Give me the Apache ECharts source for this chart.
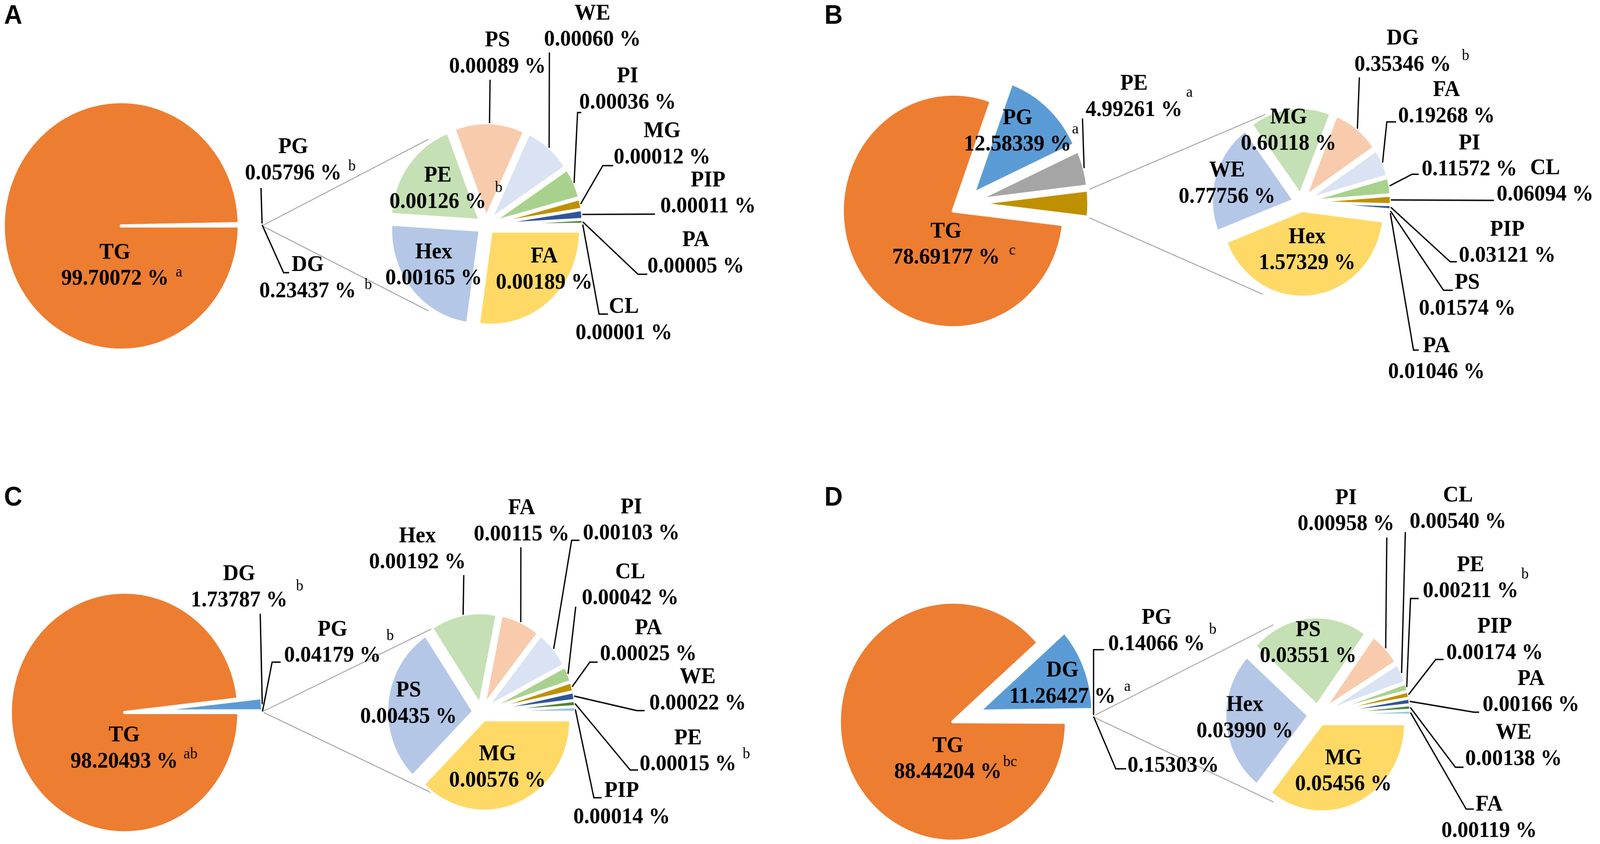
<!DOCTYPE html>
<html><head><meta charset="utf-8">
<script src="https://cdn.jsdelivr.net/npm/echarts@6/dist/echarts.min.js"></script>
<style>html,body{margin:0;padding:0;background:#fff;overflow:hidden}#c{width:4317px;height:2161px;transform-origin:0 0}</style>
</head><body><div id="c"></div>
<script>
// ---------------- DATA ----------------
const panelLetters = ['A', 'B', 'C', 'D'];

const A_mainNames = ['TG', 'PG', 'DG'];
const A_mainValues = [99.70072, 0.05796, 0.23437];
const A_mainSup = ['a', 'b', 'b'];
const A_subNames = ['FA', 'Hex', 'PE', 'PS', 'WE', 'PI', 'MG', 'PIP', 'PA', 'CL'];
const A_subValues = [0.00189, 0.00165, 0.00126, 0.00089, 0.00060, 0.00036, 0.00012, 0.00011, 0.00005, 0.00001];
const A_subSup = ['', '', 'b', '', '', '', '', '', '', ''];

const B_mainNames = ['TG', 'PG', 'PE'];
const B_mainValues = [78.69177, 12.58339, 4.99261];
const B_mainSup = ['c', 'a', 'a'];
const B_subNames = ['Hex', 'WE', 'MG', 'DG', 'FA', 'PI', 'CL', 'PIP', 'PS', 'PA'];
const B_subValues = [1.57329, 0.77756, 0.60118, 0.35346, 0.19268, 0.11572, 0.06094, 0.03121, 0.01574, 0.01046];
const B_subSup = ['', '', '', 'b', '', '', '', '', '', ''];

const C_mainNames = ['TG', 'DG', 'PG'];
const C_mainValues = [98.20493, 1.73787, 0.04179];
const C_mainSup = ['ab', 'b', 'b'];
const C_subNames = ['MG', 'PS', 'Hex', 'FA', 'PI', 'CL', 'PA', 'WE', 'PE', 'PIP'];
const C_subValues = [0.00576, 0.00435, 0.00192, 0.00115, 0.00103, 0.00042, 0.00025, 0.00022, 0.00015, 0.00014];
const C_subSup = ['', '', '', '', '', '', '', '', 'b', ''];

const D_mainNames = ['TG', 'DG', 'PG'];
const D_mainValues = [88.44204, 11.26427, 0.14066];
const D_mainSup = ['bc', 'a', 'b'];
const D_subNames = ['MG', 'Hex', 'PS', 'PI', 'CL', 'PE', 'PIP', 'PA', 'WE', 'FA'];
const D_subValues = [0.05456, 0.03990, 0.03551, 0.00958, 0.00540, 0.00211, 0.00174, 0.00166, 0.00138, 0.00119];
const D_subSup = ['', '', '', '', '', 'b', '', '', '', ''];

// ---------------- STYLE ----------------
const MAIN_COLORS = ['#ED7D31', '#5B9BD5', '#A5A5A5'];
const OTHER_COLOR = '#BF9000';
const SUB_COLORS = ['#FFD966', '#B4C7E7', '#C5E0B4', '#F8CBAD', '#DAE3F3', '#A9D18E', '#BF9000', '#2F5597', '#548235', '#9DC3E6'];
const SERIF = '"Liberation Serif", "Times New Roman", serif';
const SANS = '"Liberation Sans", Arial, sans-serif';
const LBL_SIZE = 58, LBL_LH = 67, SUP_SIZE = 40;
const LBL_FONT = 'bold ' + LBL_SIZE + 'px ' + SERIF;
const SUP_FONT = SUP_SIZE + 'px ' + SERIF;

// ---------------- LAYOUT (pixel positions on a 4317 x 2161 design) ----------------
const LAYOUT = {
  A: {
    letter: [11, 42],
    main: { c: [358, 578], r: 318, d: 31, bw: 8 },
    sub: { c: [1311, 576], r: 239, d: 22, bw: 6, beta: 0 },
    links: { up: [234.5, 269], lo: [125.2, 269] },
    labels: {
      TG: { at: [310, 714], sup: [19, 23] },
      PG: { at: [791, 444], line: [[704, 481]], sup: [18, 24] },
      DG: { at: [830, 746], line: [[765, 698], [780, 698]], sup: [23, 22] },
      PE: { at: [1181, 517], sup: [24, 42] },
      Hex: { at: [1170, 713] },
      FA: { at: [1468, 724] },
      PS: { at: [1342, 171], line: [[1322, 204]] },
      WE: { at: [1598, 102], line: [[1482, 134]] },
      PI: { at: [1693, 263], line: [[1558, 288], [1568, 288]] },
      MG: { at: [1786, 403], line: [[1626, 424], [1654, 424]] },
      PIP: { at: [1910, 529], line: [[1767, 548]] },
      PA: { at: [1877, 682], line: [[1721, 702], [1746, 702]] },
      CL: { at: [1683, 853], line: [[1616, 804], [1640, 804]] }
    }
  },
  B: {
    letter: [2224, 42],
    main: { c: [2602, 521], r: 299, d: 36, bw: 8 },
    sub: { c: [3510, 518], r: 220, d: 22, bw: 6, beta: 7 },
    links: { up: [246.9, 245], lo: [113.7, 257] },
    labels: {
      TG: { at: [2552, 660], sup: [25, 25] },
      PG: { at: [2745, 370], sup: [2, 45] },
      PE: { at: [3059, 282], line: [[2920, 303]], sup: [10, 51] },
      MG: { at: [3476, 368] },
      WE: { at: [3310, 504] },
      Hex: { at: [3526, 674] },
      DG: { at: [3784, 166], line: [[3667, 198]], sup: [29, 29] },
      FA: { at: [3902, 298], line: [[3741, 312], [3766, 312]] },
      PI: { at: [3964, 434], line: [[3809, 446], [3827, 446]] },
      CL: { at: [4168, 498], line: [[4030, 513]] },
      PIP: { at: [4066, 655], line: [[3912, 670], [3930, 670]] },
      PS: { at: [3958, 791], line: [[3894, 743], [3919, 743]] },
      PA: { at: [3875, 953], line: [[3813, 896], [3827, 896]] }
    }
  },
  C: {
    letter: [11, 1275],
    main: { c: [368, 1822], r: 308, d: 32, bw: 8 },
    sub: { c: [1298, 1823], r: 232, d: 22, bw: 6, beta: 0 },
    links: { up: [239.7, 251], lo: [121.3, 245] },
    labels: {
      TG: { at: [335, 1950], sup: [15, 25] },
      DG: { at: [645, 1537], line: [[702, 1571]], sup: [23, 42] },
      PG: { at: [897, 1679], line: [[734, 1695], [757, 1695]], sup: [15, 57] },
      PS: { at: [1102, 1835] },
      MG: { at: [1342, 1998] },
      Hex: { at: [1126, 1440], line: [[1251, 1472]] },
      FA: { at: [1407, 1368], line: [[1405, 1401]] },
      PI: { at: [1703, 1366], line: [[1542, 1383], [1563, 1383]] },
      CL: { at: [1700, 1532], line: [[1553, 1553]] },
      PA: { at: [1749, 1675], line: [[1591, 1695], [1612, 1695]] },
      WE: { at: [1882, 1801], line: [[1718, 1819], [1739, 1819]] },
      PE: { at: [1856, 1957], line: [[1700, 1971], [1721, 1971]], sup: [17, 32] },
      PIP: { at: [1677, 2092], line: [[1602, 2042], [1623, 2042]] }
    }
  },
  D: {
    letter: [2224, 1275],
    main: { c: [2606, 1834], r: 306, d: 38, bw: 8 },
    sub: { c: [3555, 1830], r: 224, d: 26, bw: 6, beta: 0 },
    links: { up: [242.5, 260], lo: [118.3, 253] },
    labels: {
      TG: { at: [2557, 1977], sup: [4, 32] },
      DG: { at: [2866, 1784], sup: [23, 32] },
      PG: { at: [3120, 1649], line: [[2950, 1663], [2978, 1663]], sup: [11, 43] },
      Other: { at: [3165, 1960], line: [[3010, 1968], [3038, 1968]] },
      PS: { at: [3529, 1680] },
      Hex: { at: [3358, 1872] },
      MG: { at: [3624, 2008] },
      PI: { at: [3631, 1342], line: [[3741, 1376]] },
      CL: { at: [3933, 1336], line: [[3791, 1362]] },
      PE: { at: [3967, 1514], line: [[3805, 1532], [3827, 1532]], sup: [8, 49] },
      PIP: { at: [4032, 1672], line: [[3873, 1688], [3894, 1688]] },
      PA: { at: [4130, 1805], line: [[3976, 1823], [3990, 1823]] },
      WE: { at: [4083, 1943], line: [[3926, 1964], [3948, 1964]] },
      FA: { at: [4017, 2127], line: [[3955, 2071], [3976, 2071]] }
    }
  }
};

const PANELS = [
  { key: 'A', mainNames: A_mainNames, mainValues: A_mainValues, mainSup: A_mainSup, subNames: A_subNames, subValues: A_subValues, subSup: A_subSup },
  { key: 'B', mainNames: B_mainNames, mainValues: B_mainValues, mainSup: B_mainSup, subNames: B_subNames, subValues: B_subValues, subSup: B_subSup },
  { key: 'C', mainNames: C_mainNames, mainValues: C_mainValues, mainSup: C_mainSup, subNames: C_subNames, subValues: C_subValues, subSup: C_subSup },
  { key: 'D', mainNames: D_mainNames, mainValues: D_mainValues, mainSup: D_mainSup, subNames: D_subNames, subValues: D_subValues, subSup: D_subSup }
];

// ---------------- FIT THE DESIGN TO THE VIEWPORT ----------------
const W0 = 4317, H0 = 2161;
const vw = document.documentElement.clientWidth || window.innerWidth || W0;
const vh = document.documentElement.clientHeight || window.innerHeight || H0;
const FX = Math.min(1, vw / W0), FY = Math.min(1, vh / H0);
const host = document.getElementById('c');
if (FX < 1 || FY < 1) host.style.transform = 'scale(' + FX + ',' + FY + ')';

// ---------------- BUILD ----------------
const rad = d => d * Math.PI / 180;
const dirS = d => [Math.cos(rad(d)), Math.sin(rad(d))]; // screen, clockwise from 3 o'clock
const mctx = document.createElement('canvas').getContext('2d');
function textWidth(t, font) { mctx.font = font; return mctx.measureText(t).width; }
const sum = arr => arr.reduce((a, b) => a + b, 0);

const series = [];
const graphics = [];

function addLabel(L, it, pieL) {
  const lab = L.labels[it.name];
  if (!lab) return;
  const isOther = it.name === 'Other';
  const valueText = it.value.toFixed(5) + (isOther ? '%' : ' %');
  const [cx, vy] = lab.at;
  const text = isOther ? valueText : it.name + '\n' + valueText;
  const y = isOther ? vy : vy - LBL_LH / 2;
  graphics.push({
    type: 'text', z: 100, silent: true,
    style: { text: text, x: cx, y: y, font: LBL_FONT, lineHeight: LBL_LH, fill: '#000',
      align: 'center', verticalAlign: 'middle', textAlign: 'center', textVerticalAlign: 'middle' }
  });
  if (it.sup) {
    const w = textWidth(valueText, LBL_FONT);
    const s = lab.sup || [14, 26];
    graphics.push({
      type: 'text', z: 100, silent: true,
      style: { text: it.sup, x: cx + w / 2 + s[0], y: vy + 6 - s[1], font: SUP_FONT, fill: '#000',
        align: 'left', verticalAlign: 'middle', textAlign: 'left', textVerticalAlign: 'middle' }
    });
  }
  if (lab.line) {
    const dv = dirS(it.midS);
    const R = pieL.r + pieL.d;
    const start = [pieL.c[0] + R * dv[0], pieL.c[1] + R * dv[1]];
    graphics.push({
      type: 'polyline', z: 99, silent: true,
      shape: { points: [start].concat(lab.line) },
      style: { stroke: '#000', lineWidth: 3.5, fill: null }
    });
  }
}

PANELS.forEach((p, pi) => {
  const L = LAYOUT[p.key];
  const otherVal = sum(p.subValues);
  const mainTotal = sum(p.mainValues) + otherVal;

  // primary pie: counter-clockwise from 3 o'clock: "other" (the secondary total), then the rest
  const mainItems = [{ name: 'Other', value: otherVal, color: OTHER_COLOR, sup: '' }];
  for (let i = p.mainNames.length - 1; i >= 0; i--) {
    mainItems.push({ name: p.mainNames[i], value: p.mainValues[i], color: MAIN_COLORS[i], sup: p.mainSup[i] });
  }
  const otherDeg = otherVal / mainTotal * 360;
  const startMath = -otherDeg / 2;
  let cum = 0;
  mainItems.forEach(it => {
    const a = it.value / mainTotal * 360;
    it.a0 = startMath + cum; it.a1 = it.a0 + a; it.midS = -(it.a0 + it.a1) / 2;
    cum += a;
  });
  series.push({
    type: 'pie', center: L.main.c, radius: L.main.r, startAngle: startMath, clockwise: false,
    selectedMode: 'multiple', selectedOffset: L.main.d, minAngle: 0, avoidLabelOverlap: false,
    label: { show: false }, labelLine: { show: false },
    emphasis: { disabled: true, scale: false },
    select: { itemStyle: { borderColor: '#fff', borderWidth: L.main.bw } },
    itemStyle: { borderColor: '#fff', borderWidth: L.main.bw },
    data: mainItems.map(it => ({ name: it.name, value: it.value, selected: true, itemStyle: { color: it.color } }))
  });

  // secondary pie: clockwise from 3 o'clock (+ beta)
  let cum2 = 0;
  const subItems = p.subNames.map((n, i) => {
    const a = p.subValues[i] / otherVal * 360;
    const it = { name: n, value: p.subValues[i], color: SUB_COLORS[i], sup: p.subSup[i], midS: L.sub.beta + cum2 + a / 2 };
    cum2 += a;
    return it;
  });
  series.push({
    type: 'pie', center: L.sub.c, radius: L.sub.r, startAngle: -L.sub.beta, clockwise: true,
    selectedMode: 'multiple', selectedOffset: L.sub.d, minAngle: 0, avoidLabelOverlap: false,
    label: { show: false }, labelLine: { show: false },
    emphasis: { disabled: true, scale: false },
    select: { itemStyle: { borderColor: '#fff', borderWidth: L.sub.bw } },
    itemStyle: { borderColor: '#fff', borderWidth: L.sub.bw },
    data: subItems.map(it => ({ name: it.name, value: it.value, selected: true, itemStyle: { color: it.color } }))
  });

  // connector lines from the "other" slice to the secondary pie
  const oth = mainItems[0];
  const c = L.main.c, r = L.main.r, d = L.main.d;
  const md = dirS(oth.midS);
  const base = [c[0] + d * md[0], c[1] + d * md[1]];
  const upEdge = dirS(-oth.a1), loEdge = dirS(-oth.a0);
  const pUp = [base[0] + r * upEdge[0], base[1] + r * upEdge[1]];
  const pLo = [base[0] + r * loEdge[0], base[1] + r * loEdge[1]];
  const c2 = L.sub.c;
  const eu = dirS(L.links.up[0]), el = dirS(L.links.lo[0]);
  const qUp = [c2[0] + L.links.up[1] * eu[0], c2[1] + L.links.up[1] * eu[1]];
  const qLo = [c2[0] + L.links.lo[1] * el[0], c2[1] + L.links.lo[1] * el[1]];
  graphics.push({ type: 'line', z: 1, silent: true, shape: { x1: pUp[0], y1: pUp[1], x2: qUp[0], y2: qUp[1] }, style: { stroke: '#A6A6A6', lineWidth: 2.5 } });
  graphics.push({ type: 'line', z: 1, silent: true, shape: { x1: pLo[0], y1: pLo[1], x2: qLo[0], y2: qLo[1] }, style: { stroke: '#A6A6A6', lineWidth: 2.5 } });

  mainItems.forEach(it => addLabel(L, it, L.main));
  subItems.forEach(it => addLabel(L, it, L.sub));

  graphics.push({
    type: 'text', z: 100, silent: true,
    style: { text: panelLetters[pi], x: L.letter[0], y: L.letter[1], font: 'bold 68px ' + SANS, fill: '#000',
      align: 'left', verticalAlign: 'middle', textAlign: 'left', textVerticalAlign: 'middle' }
  });
});

const chart = echarts.init(host, null, { renderer: 'canvas', devicePixelRatio: (window.devicePixelRatio || 1) / Math.min(FX, FY) });
chart.setOption({
  backgroundColor: '#fff',
  animation: false,
  series: series,
  graphic: { elements: graphics }
});
</script>
</body></html>
